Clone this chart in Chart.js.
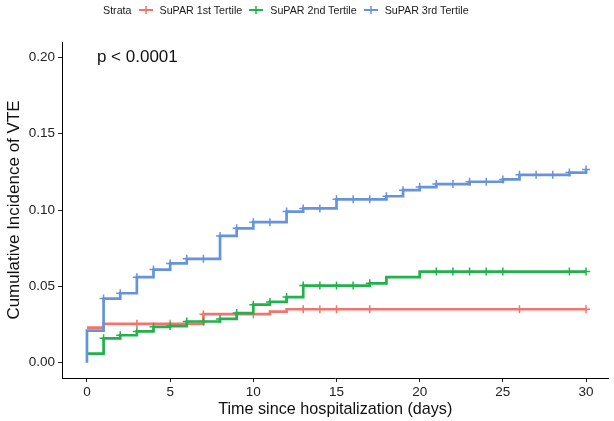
<!DOCTYPE html>
<html>
<head>
<meta charset="utf-8">
<script src="https://cdn.jsdelivr.net/npm/chart.js@4.4.1/dist/chart.umd.min.js"></script>
<style>
  html, body { margin: 0; padding: 0; background: #fff; }
  #wrap { position: relative; width: 614px; height: 421px; }
  #legend {
    position: absolute; top: 2px; left: 103px;
    display: flex; align-items: center; gap: 7px;
    font: 10.7px "Liberation Sans", Arial, sans-serif; color: #1a1a1a;
    height: 16px;
  }
  #legend svg { display: block; }
</style>
</head>
<body>
<div id="wrap">
  <canvas id="kmChart" width="614" height="421"></canvas>
  <div id="legend"></div>
</div>
<script>
// time grid / tick labels
const xTicks = [0, 5, 10, 15, 20, 25, 30];
const yTicks = [0.00, 0.05, 0.10, 0.15, 0.20];

const strata = ['SuPAR 1st Tertile', 'SuPAR 2nd Tertile', 'SuPAR 3rd Tertile'];
const colors = ['#F1756C', '#22B14C', '#6594DC'];

// step change points
const t1 = [0, 1, 7, 11, 12, 30];
const v1 = [0.023, 0.0255, 0.0318, 0.0335, 0.035, 0.035];
const c1 = [3, 5, 7, 10, 13, 14, 15, 17, 26, 30];   // censor marks

const t2 = [0, 1, 2, 3, 4, 5, 6, 8, 9, 10, 11, 12, 13, 17, 18, 20, 30];
const v2 = [0.0059, 0.016, 0.018, 0.0205, 0.0235, 0.024, 0.027, 0.0287, 0.0325,
            0.038, 0.0398, 0.043, 0.0505, 0.052, 0.056, 0.0597, 0.0597];
const c2 = [1, 2, 3, 4, 5, 6, 7, 8, 9, 10, 11, 12, 13, 14, 15, 16, 17, 21, 22, 23, 24, 25, 29, 30];

const t3 = [0, 0, 1, 2, 3, 4, 5, 6, 8, 9, 10, 12, 13, 15, 18, 19, 20, 21, 23, 25, 26, 29, 30];
const v3 = [0, 0.021, 0.042, 0.0455, 0.056, 0.061, 0.065, 0.068, 0.083, 0.088, 0.092, 0.099,
            0.101, 0.107, 0.109, 0.113, 0.115, 0.117, 0.1185, 0.120, 0.123, 0.1245, 0.1265];
const c3 = [1, 2, 3, 4, 5, 6, 7, 8, 9, 10, 11, 12, 13, 14, 15, 16, 17, 18, 19, 20,
            21, 22, 23, 24, 25, 26, 27, 28, 29, 30];

const pText = 'p < 0.0001';
const FONT = '"Liberation Sans", Arial, sans-serif';

/** value of a step curve at time t */
function valueAt(ts, vs, t) {
  let v = vs[0];
  for (let i = 0; i < ts.length; i++) if (ts[i] <= t) v = vs[i];
  return v;
}

function stepSet(ts, vs, color, order) {
  return {
    type: 'line',
    data: ts.map((t, i) => ({ x: t, y: vs[i] })),
    borderColor: color,
    borderWidth: 2.7,
    stepped: true,
    pointRadius: 0,
    fill: false,
    order,
  };
}

function censorSet(cs, ts, vs, color, order) {
  return {
    type: 'scatter',
    data: cs.map(t => ({ x: t, y: valueAt(ts, vs, t) })),
    pointStyle: 'cross',
    pointRadius: 4,
    borderColor: color,
    borderWidth: 1.5,
    showLine: false,
    order,
  };
}

// legend (html)
const legend = document.getElementById('legend');
legend.innerHTML = '<span>Strata</span>' + strata.map((s, i) =>
  `<svg width="14" height="10"><line x1="0" y1="5" x2="14" y2="5" stroke="${colors[i]}" stroke-width="2"/>` +
  `<line x1="7" y1="1" x2="7" y2="9" stroke="${colors[i]}" stroke-width="1.5"/></svg><span>${s}</span>`
).join('');

const pvalPlugin = {
  id: 'pval',
  afterDatasetsDraw(chart) {
    const { ctx, scales } = chart;
    ctx.save();
    ctx.font = '17px ' + FONT;
    ctx.fillStyle = '#111';
    ctx.textAlign = 'left';
    ctx.textBaseline = 'middle';
    ctx.fillText(pText, scales.x.getPixelForValue(0.6), scales.y.getPixelForValue(0.2));
    ctx.restore();
  },
};

const axisCommon = {
  grid: { drawOnChartArea: false, drawTicks: true, tickLength: 4, color: '#222', lineWidth: 1 },
  border: { display: true, color: '#000', width: 1 },
};

new Chart(document.getElementById('kmChart').getContext('2d'), {
  data: {
    datasets: [
      stepSet(t3, v3, colors[2], 0), censorSet(c3, t3, v3, colors[2], 0),
      stepSet(t2, v2, colors[1], 1), censorSet(c2, t2, v2, colors[1], 1),
      stepSet(t1, v1, colors[0], 2), censorSet(c1, t1, v1, colors[0], 2),
    ],
  },
  options: {
    responsive: false,
    animation: false,
    layout: { padding: { top: 42, right: 0, left: 4, bottom: 0 } },
    plugins: { legend: { display: false }, tooltip: { enabled: false } },
    scales: {
      x: {
        type: 'linear',
        min: -1.5,
        max: 31.35,
        ...axisCommon,
        afterBuildTicks: s => { s.ticks = xTicks.map(v => ({ value: v })); },
        afterFit: s => { s.height = 43; },
        ticks: { font: { family: FONT, size: 13.5 }, color: '#222', padding: 2, maxRotation: 0 },
        title: {
          display: true,
          text: 'Time since hospitalization (days)',
          font: { family: FONT, size: 16.2 },
          color: '#111',
          padding: { top: 0, bottom: 2 },
        },
      },
      y: {
        type: 'linear',
        min: -0.01,
        max: 0.21,
        ...axisCommon,
        afterBuildTicks: s => { s.ticks = yTicks.map(v => ({ value: v })); },
        afterFit: s => { s.width = 58; },
        ticks: { font: { family: FONT, size: 13.5 }, color: '#222', padding: 3, callback: v => v.toFixed(2) },
        title: {
          display: true,
          text: 'Cumulative Incidence of VTE',
          font: { family: FONT, size: 17 },
          color: '#111',
          padding: { top: 0, bottom: 0 },
        },
      },
    },
  },
  plugins: [pvalPlugin],
});
</script>
</body>
</html>
